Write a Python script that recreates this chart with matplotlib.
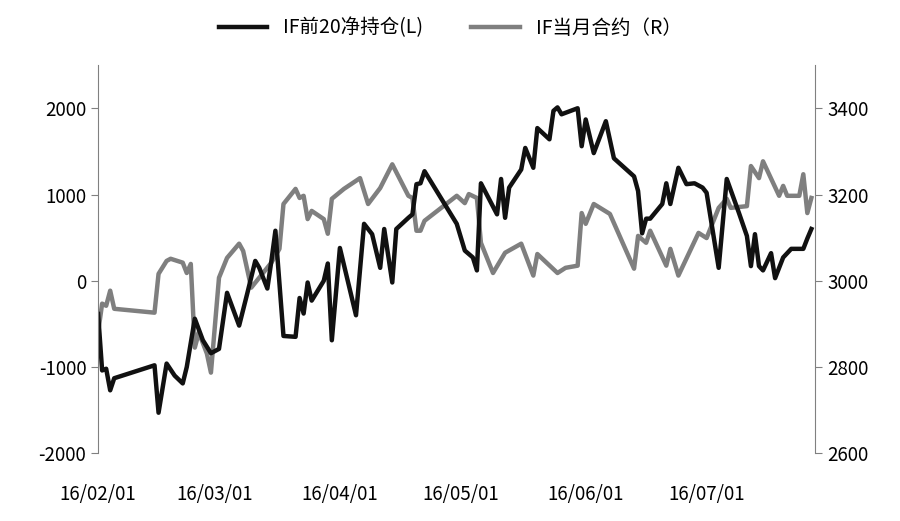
import numpy as np
import pandas as pd
import matplotlib
matplotlib.use("Agg")
import matplotlib.pyplot as plt
import matplotlib.dates as mdates

plt.rcParams['font.family'] = ['Noto Sans CJK SC', 'DejaVu Sans']
plt.rcParams['axes.unicode_minus'] = False

start = pd.Timestamp("2016-02-01")

# IF top-20 net position (left axis): days since 2016-02-01, value
net_days = [0, 1, 2, 3, 4, 14, 15, 17, 19, 21, 22, 24, 26, 28, 30, 32, 35, 37, 39, 40,
            42, 43, 44, 46, 49, 50, 51, 52, 53, 56, 57, 58, 60, 64, 66, 68, 70, 71, 73, 74,
            77, 78, 79, 80, 81, 89, 91, 92, 93, 94, 95, 97, 99, 100, 101, 102, 105, 106, 108, 109,
            112, 113, 114, 115, 119, 120, 121, 123, 126, 128, 133, 134, 135, 136, 137, 140, 141, 142, 144, 146,
            148, 150, 151, 154, 156, 159, 161, 162, 163, 164, 165, 167, 168, 170, 172, 175, 176, 177]
net_vals = [-385, -1040, -1020, -1270, -1130, -980, -1530, -960, -1100, -1190, -1000, -440, -690, -840, -790, -140, -520, -150, 230, 150,
            -90, 230, 580, -640, -650, -200, -380, -20, -230, 0, 200, -690, 380, -400, 660, 540, 150, 600, -20, 600,
            730, 770, 1120, 1130, 1270, 660, 350, 310, 270, 120, 1130, 950, 770, 1180, 730, 1080, 1290, 1540, 1310, 1770,
            1640, 1970, 2010, 1930, 2000, 1560, 1870, 1480, 1850, 1420, 1210, 1040, 550, 720, 720, 890, 1130, 890, 1310, 1120,
            1130, 1080, 1020, 150, 1180, 790, 520, 170, 540, 170, 120, 320, 30, 270, 370, 370, 490, 600]

# IF current-month contract (right axis)
fut_days = [0, 1, 2, 3, 4, 14, 15, 17, 18, 21, 22, 23, 24, 25, 27, 28, 30, 32, 35, 36,
            38, 43, 45, 46, 49, 50, 51, 52, 53, 56, 57, 58, 61, 65, 67, 70, 73, 77, 78, 79,
            80, 81, 89, 91, 92, 94, 95, 98, 101, 105, 108, 109, 114, 116, 119, 120, 121, 123, 127, 133,
            134, 136, 137, 141, 142, 144, 149, 151, 154, 156, 157, 161, 162, 164, 165, 169, 170, 171, 174, 175,
            176, 177]
fut_vals = [2880, 2947, 2942, 2977, 2935, 2926, 3016, 3046, 3051, 3042, 3018, 3039, 2845, 2880, 2831, 2787, 3007, 3053, 3086, 3069,
            2984, 3042, 3074, 3178, 3213, 3192, 3197, 3143, 3162, 3143, 3109, 3190, 3213, 3238, 3178, 3215, 3270, 3197, 3192, 3116,
            3116, 3139, 3197, 3180, 3201, 3192, 3088, 3018, 3065, 3086, 3012, 3062, 3018, 3030, 3035, 3157, 3132, 3178, 3155, 3028,
            3104, 3088, 3116, 3035, 3074, 3012, 3111, 3099, 3169, 3190, 3169, 3173, 3266, 3238, 3277, 3197, 3220, 3197, 3197, 3247,
            3157, 3192]

net_dates = start + pd.to_timedelta(net_days, unit="D")
fut_dates = start + pd.to_timedelta(fut_days, unit="D")

fig = plt.figure(figsize=(9, 5.21), dpi=100)
ax = fig.add_axes([0.109, 0.13, 0.797, 0.745])
ax2 = ax.twinx()

l1, = ax.plot(net_dates, net_vals, color="#111111", lw=3.2, label="IF前20净持仓(L)")
l2, = ax2.plot(fut_dates, fut_vals, color="#7f7f7f", lw=3.2, label="IF当月合约（R）")
ax.set_zorder(ax2.get_zorder() + 1)
ax.patch.set_visible(False)

ax.set_ylim(-2000, 2500)
ax.set_yticks([-2000, -1000, 0, 1000, 2000])
ax2.set_ylim(2600, 3500)
ax2.set_yticks([2600, 2800, 3000, 3200, 3400])
ax.set_xlim(start, start + pd.Timedelta(days=178))
ax.xaxis.set_major_locator(mdates.MonthLocator())
ax.xaxis.set_major_formatter(mdates.DateFormatter("%y/%m/%d"))

for a in (ax, ax2):
    for s in ("top", "bottom"):
        a.spines[s].set_visible(False)
    a.spines["left"].set_color("#808080")
    a.spines["right"].set_color("#808080")
    a.tick_params(labelsize=13.5, color="#808080", length=5)
ax.spines["right"].set_visible(False)
ax2.spines["left"].set_visible(False)
ax.tick_params(axis="x", length=0, pad=22)

fig.legend(handles=[l1, l2], loc="upper center", bbox_to_anchor=(0.5, 1.0), ncol=2,
           frameon=False, fontsize=14, handlelength=2.5, columnspacing=2.5)

plt.savefig("out.png", dpi=100)
